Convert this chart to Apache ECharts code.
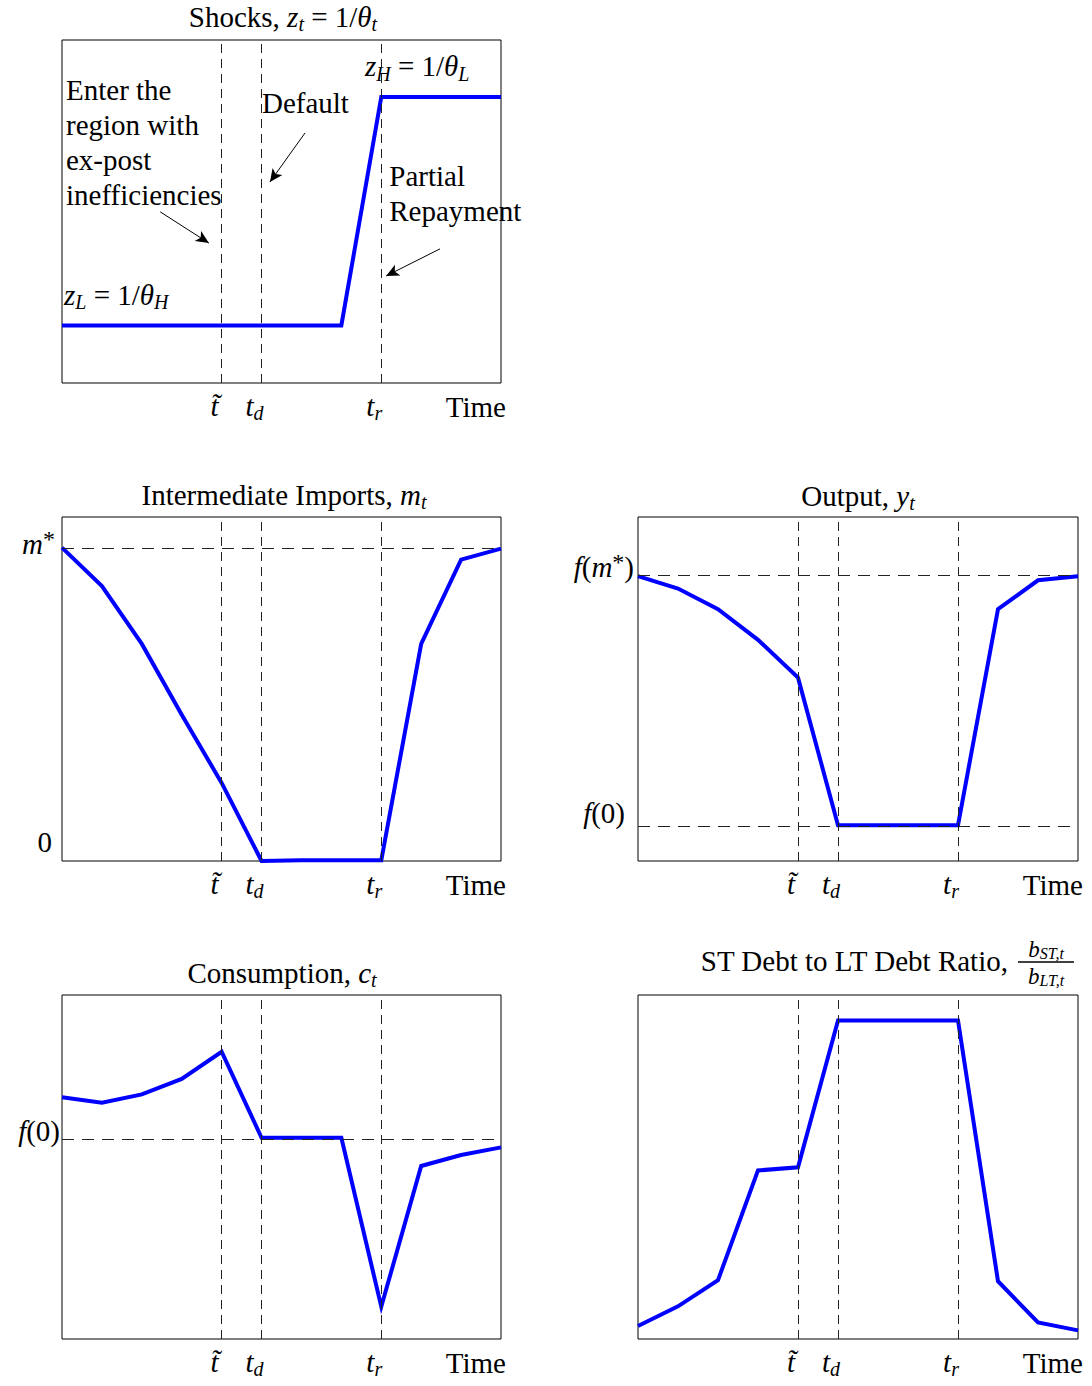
<!DOCTYPE html>
<html>
<head>
<meta charset="utf-8">
<script src="https://cdn.jsdelivr.net/npm/echarts@6/dist/echarts.min.js"></script>
<style>
  html, body { margin: 0; background: #fff; }
  #chart { width: 1092px; height: 1386px; }
</style>
</head>
<body>
<div id="chart"></div>
<script>
// time steps on the horizontal axis (t~ = 4, t_d = 5, t_r = 8)
const steps = [0, 1, 2, 3, 4, 5, 6, 7, 8, 9, 10, 11];
const eventTimes = [4, 5, 8];
const eventLabels = ['{i|t\u0303}', '{i|t}{s|d}', '{i|t}{s|r}'];

// series (0 = bottom of box, 1 = top)
const shocks = [0.168, 0.168, 0.168, 0.168, 0.168, 0.168, 0.168, 0.168, 0.834, 0.834, 0.834, 0.834];
const imports = [0.911, 0.799, 0.631, 0.425, 0.227, 0.0, 0.002, 0.002, 0.002, 0.631, 0.876, 0.908];
const output = [0.828, 0.792, 0.732, 0.643, 0.533, 0.104, 0.104, 0.104, 0.104, 0.732, 0.816, 0.828];
const consumption = [0.703, 0.687, 0.711, 0.756, 0.835, 0.585, 0.585, 0.585, 0.094, 0.503, 0.535, 0.557];
const debtRatio = [0.038, 0.095, 0.171, 0.49, 0.499, 0.926, 0.926, 0.926, 0.926, 0.168, 0.048, 0.025];

// reference levels (dashed horizontals)
const importsRef = [0.91];        // m*
const outputRef = [0.828, 0.104]; // f(m*), f(0)
const consumptionRef = [0.585];   // f(0)

// arrows in the shocks panel, [from, to] in data units
const arrows = [
  [[2.46, 0.499], [3.68, 0.408]],
  [[6.09, 0.729], [5.21, 0.586]],
  [[9.47, 0.391], [8.12, 0.312]]
];

const FONT = 'Liberation Serif';
const rich = {
  i: { fontFamily: FONT, fontStyle: 'italic', fontSize: 29, lineHeight: 34, color: '#000' },
  s: { fontFamily: FONT, fontStyle: 'italic', fontSize: 20, lineHeight: 20, verticalAlign: 'bottom', color: '#000' },
  p: { fontFamily: FONT, fontSize: 24, lineHeight: 30, verticalAlign: 'top', color: '#000' },
  bi: { fontFamily: FONT, fontStyle: 'italic', fontSize: 23, lineHeight: 24, color: '#000' },
  bs: { fontFamily: FONT, fontStyle: 'italic', fontSize: 16, lineHeight: 16, verticalAlign: 'bottom', color: '#000' }
};

const grids = [
  { left: 62, top: 40, width: 439, height: 343 },
  { left: 62, top: 517, width: 439, height: 344 },
  { left: 638, top: 517, width: 440, height: 344 },
  { left: 62, top: 995, width: 439, height: 344 },
  { left: 638, top: 995, width: 440, height: 344 }
];

const panels = [
  { values: shocks, refs: [] },
  { values: imports, refs: importsRef },
  { values: output, refs: outputRef },
  { values: consumption, refs: consumptionRef },
  { values: debtRatio, refs: [] }
];

const chart = echarts.init(document.getElementById('chart'), null, { renderer: 'svg' });

const dashV = { color: '#222', width: 1, type: [9, 6] };
const dashH = { color: '#222', width: 1, type: [12, 8] };

chart.setOption({
  animation: false,
  backgroundColor: '#fff',
  grid: grids.map(g => Object.assign({
    show: true, borderColor: '#000', borderWidth: 1, backgroundColor: 'transparent',
    containLabel: false, outerBoundsMode: 'none'
  }, g)),
  xAxis: grids.map((g, k) => ({
    type: 'value', gridIndex: k, min: 0, max: 11,
    axisLine: { show: false }, axisTick: { show: false }, splitLine: { show: false },
    axisLabel: {
      customValues: eventTimes,
      margin: 6,
      padding: [0, 14, 0, 0],
      color: '#000', fontFamily: FONT, fontSize: 29, lineHeight: 34,
      formatter: v => {
        const idx = eventTimes.indexOf(v);
        return idx < 0 ? '' : eventLabels[idx];
      },
      rich: rich
    },
    name: 'Time',
    nameLocation: 'end',
    nameGap: 5,
    nameTextStyle: {
      color: '#000', fontFamily: FONT, fontSize: 29, lineHeight: 34,
      align: 'right', verticalAlign: 'top', padding: [7, 0, 0, 0]
    }
  })),
  yAxis: grids.map((g, k) => ({
    type: 'value', gridIndex: k, min: 0, max: 1,
    axisLine: { show: false }, axisTick: { show: false }, splitLine: { show: false },
    axisLabel: { show: false }
  })),
  series: panels.map((p, k) => {
    const lines = eventTimes.map(t => ({ xAxis: t, lineStyle: dashV }))
      .concat(p.refs.map(v => ({ yAxis: v, lineStyle: dashH })));
    if (k === 0) {
      arrows.forEach(a => {
        lines.push([
          { coord: a[0], symbol: 'none', lineStyle: { color: '#000', width: 1, type: 'solid' } },
          { coord: a[1], symbol: 'arrow', symbolSize: [9, 13] }
        ]);
      });
    }
    return {
      type: 'line',
      xAxisIndex: k, yAxisIndex: k,
      data: steps.map((x, j) => [x, p.values[j]]),
      symbol: 'none',
      clip: false,
      lineStyle: { color: '#0000ff', width: 4, join: 'miter' },
      markLine: {
        silent: true, symbol: 'none', animation: false,
        label: { show: false },
        itemStyle: { color: '#000' },
        data: lines
      }
    };
  })
});

function textEl(x, y, text, align, vAlign, lineHeight) {
  return {
    type: 'text', x: x, y: y, silent: true,
    style: {
      text: text, align: align, verticalAlign: vAlign, fill: '#000',
      fontFamily: FONT, fontSize: 29, lineHeight: lineHeight || 34, rich: rich
    }
  };
}

const px = (k, pt) => chart.convertToPixel({ gridIndex: k }, pt);

// labels for the reference levels, just left of each box
const yLabels = [
  { grid: 1, value: importsRef[0], text: '{i|m}{p|*}', dx: 7, dy: 4 },
  { grid: 1, value: 0, text: '0', dx: 10, dy: 19 },
  { grid: 2, value: outputRef[0], text: '{i|f}({i|m}{p|*})', dx: 4, dy: 9 },
  { grid: 2, value: outputRef[1], text: '{i|f}(0)', dx: 13, dy: 12 },
  { grid: 3, value: consumptionRef[0], text: '{i|f}(0)', dx: 2, dy: 7 }
];

// notes inside the shocks panel, anchored in data units
const notes = [
  { at: [0.1, 0.905], text: 'Enter the\nregion with\nex-post\ninefficiencies', v: 'top' },
  { at: [5.01, 0.816], text: 'Default', v: 'middle' },
  { at: [8.2, 0.654], text: 'Partial\nRepayment', v: 'top' },
  { at: [7.59, 0.924], text: '{i|z}{s|H} = 1/{i|\u03b8}{s|L}', v: 'middle' },
  { at: [0.05, 0.257], text: '{i|z}{s|L} = 1/{i|\u03b8}{s|H}', v: 'middle' }
];

const graphic = [];
const titles = [
  'Shocks, {i|z}{s|t} = 1/{i|\u03b8}{s|t}',
  'Intermediate Imports, {i|m}{s|t}',
  'Output, {i|y}{s|t}',
  'Consumption, {i|c}{s|t}'
];
const titleCenters = [[283, 17], [284, 495], [858, 496], [282, 973]];
titles.forEach((t, k) => graphic.push(textEl(titleCenters[k][0], titleCenters[k][1], t, 'center', 'middle')));
graphic.push(textEl(1008, 961, 'ST Debt to LT Debt Ratio,', 'right', 'middle'));
// fraction b_ST,t / b_LT,t
graphic.push({
  type: 'text', x: 1046, y: 949, silent: true,
  style: { text: '{bi|b}{bs|ST,t}', align: 'center', verticalAlign: 'middle', fill: '#000',
    fontFamily: FONT, fontSize: 23, lineHeight: 24, rich: rich }
});
graphic.push({
  type: 'line', silent: true,
  shape: { x1: 1018, y1: 962, x2: 1074, y2: 962 },
  style: { stroke: '#000', lineWidth: 1.6 }
});
graphic.push({
  type: 'text', x: 1046, y: 976, silent: true,
  style: { text: '{bi|b}{bs|LT,t}', align: 'center', verticalAlign: 'middle', fill: '#000',
    fontFamily: FONT, fontSize: 23, lineHeight: 24, rich: rich }
});

yLabels.forEach(l => {
  const p = px(l.grid, [0, l.value]);
  graphic.push(textEl(p[0] - l.dx, p[1] - l.dy, l.text, 'right', 'middle'));
});
notes.forEach(n => {
  const p = px(0, n.at);
  graphic.push(textEl(p[0], p[1], n.text, 'left', n.v, 35));
});

chart.setOption({ graphic: graphic });
</script>
</body>
</html>
